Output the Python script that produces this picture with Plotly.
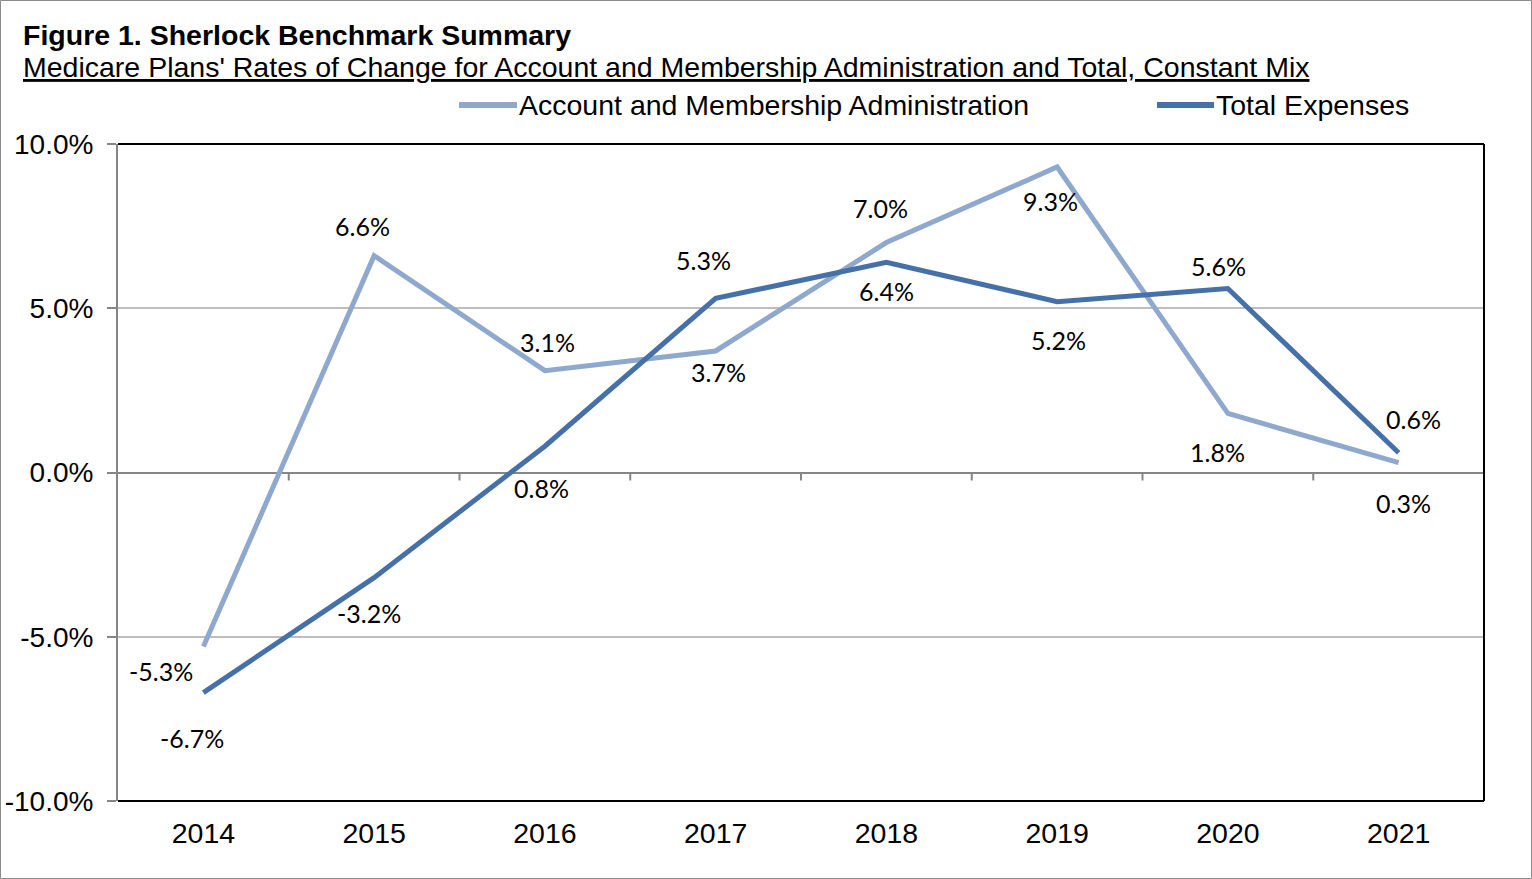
import plotly.graph_objects as go

years = ["2014", "2015", "2016", "2017", "2018", "2019", "2020", "2021"]
account_admin = [-5.3, 6.6, 3.1, 3.7, 7.0, 9.3, 1.8, 0.3]
total_expenses = [-6.7, -3.2, 0.8, 5.3, 6.4, 5.2, 5.6, 0.6]
y_tickvals = [-10, -5, 0, 5, 10]
y_ticktext = ["-10.0%", "-5.0%", "0.0%", "5.0%", "10.0%"]
series_names = ["Account and Membership Administration", "Total Expenses"]

title_text = "Figure 1. Sherlock Benchmark Summary"
subtitle_text = ("Medicare Plans' Rates of Change for Account and Membership "
                 "Administration and Total, Constant Mix")

# label offsets in pixels (layout only)
acc_shift = [(-42, -24), (-12, 30), (3, 29), (3, -21), (-6, 35), (-7, -34), (-10, -39), (5, -40)]
tot_shift = [(-11, -45), (-5, -35), (-3, -42), (-12, 38), (0, -29), (1, -38), (-9, 23), (15, 34)]

LIGHT = "#8EA8CE"
DARK = "#4570A8"
ARIAL = "Arial, Liberation Sans, sans-serif"
FS = 28.5
LABEL_FONT = dict(family="Lato, Carlito, sans-serif", size=25, color="black")

W, H = 1532, 879
L, R, T, B = 118, 48, 144, 78
pw, ph = W - L - R, H - T - B


def px(xp):
    return (xp - L) / pw


def py(yp):
    return (H - B - yp) / ph


fig = go.Figure()
fig.add_trace(go.Scatter(x=years, y=account_admin, mode="lines",
                         name=series_names[0], showlegend=False,
                         line=dict(color=LIGHT, width=5)))
fig.add_trace(go.Scatter(x=years, y=total_expenses, mode="lines",
                         name=series_names[1], showlegend=False,
                         line=dict(color=DARK, width=5)))

annotations = []
for i, (v, (dx, dy)) in enumerate(zip(account_admin, acc_shift)):
    annotations.append(dict(x=i, y=v, xref="x", yref="y", text=f"{v:.1f}%",
                            showarrow=False, xshift=dx, yshift=dy,
                            font=LABEL_FONT, xanchor="center", yanchor="middle"))
for i, (v, (dx, dy)) in enumerate(zip(total_expenses, tot_shift)):
    annotations.append(dict(x=i, y=v, xref="x", yref="y", text=f"{v:.1f}%",
                            showarrow=False, xshift=dx, yshift=dy,
                            font=LABEL_FONT, xanchor="center", yanchor="middle"))

annotations.append(dict(x=px(21), y=py(35), xref="paper", yref="paper",
                        text=f"<b>{title_text}</b>", showarrow=False,
                        xanchor="left", yanchor="middle",
                        font=dict(family=ARIAL, size=FS, color="black")))
annotations.append(dict(x=px(21), y=py(67), xref="paper", yref="paper",
                        text=f"<u>{subtitle_text}</u>", showarrow=False,
                        xanchor="left", yanchor="middle",
                        font=dict(family=ARIAL, size=FS, color="black")))

shapes = []
# manual legend
legend_items = [(series_names[0], LIGHT, 459, 517, 517),
                (series_names[1], DARK, 1157, 1214, 1214)]
for name, col, x0, x1, xt in legend_items:
    shapes.append(dict(type="line", xref="paper", yref="paper",
                       x0=px(x0), x1=px(x1), y0=py(105), y1=py(105),
                       line=dict(color=col, width=6)))
    annotations.append(dict(x=px(xt), y=py(105), xref="paper", yref="paper",
                            text=name, showarrow=False, xanchor="left", yanchor="middle",
                            font=dict(family=ARIAL, size=FS, color="black")))

# outer figure border
shapes.append(dict(type="rect", xref="paper", yref="paper",
                   x0=px(0.5), x1=px(W - 0.5), y0=py(H - 0.5), y1=py(0.5),
                   line=dict(color="#8C8C8C", width=1), layer="below"))
# plot frame (top, right, bottom black)
shapes.append(dict(type="line", xref="paper", yref="paper", x0=0, x1=1, y0=1, y1=1,
                   line=dict(color="black", width=2)))
shapes.append(dict(type="line", xref="paper", yref="paper", x0=1, x1=1, y0=0, y1=1,
                   line=dict(color="black", width=2)))
shapes.append(dict(type="line", xref="paper", yref="paper", x0=0, x1=1, y0=0, y1=0,
                   line=dict(color="black", width=2)))
# category tick marks on the zero line
for i in range(len(years) - 1):
    shapes.append(dict(type="line", xref="x", yref="y", ysizemode="pixel", yanchor=0,
                       x0=i + 0.5, x1=i + 0.5, y0=0, y1=-8,
                       line=dict(color="#868686", width=2)))

fig.update_layout(
    width=W, height=H,
    margin=dict(l=L, r=R, t=T, b=B, autoexpand=False),
    paper_bgcolor="white", plot_bgcolor="white",
    font=dict(family=ARIAL, size=FS, color="black"),
    showlegend=False,
    xaxis=dict(type="category", range=[-0.5, len(years) - 0.5], showgrid=False,
               showline=False, zeroline=False, ticks="", ticklabelstandoff=12,
               automargin=False,
               tickfont=dict(family=ARIAL, size=FS, color="black"), fixedrange=True),
    yaxis=dict(range=[-10, 10], tickvals=y_tickvals, ticktext=y_ticktext,
               showgrid=True, gridcolor="#BEBEBE", gridwidth=1.5,
               zeroline=True, zerolinecolor="#868686", zerolinewidth=2,
               showline=True, linecolor="#868686", linewidth=2,
               ticks="outside", ticklen=9, tickcolor="#868686", tickwidth=2,
               ticklabelstandoff=8, automargin=False,
               tickfont=dict(family=ARIAL, size=28, color="black"), fixedrange=True),
    annotations=annotations,
    shapes=shapes,
)

fig.write_html("out.html")
